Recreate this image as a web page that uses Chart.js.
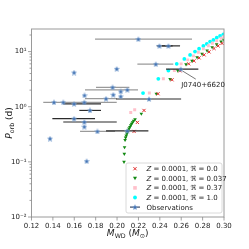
<!DOCTYPE html>
<html><head><meta charset="utf-8">
<script src="https://cdn.jsdelivr.net/npm/chart.js@4.4.1/dist/chart.umd.min.js"></script>
<style>html,body{margin:0;padding:0;background:#fff}canvas{display:block}</style>
</head><body>
<canvas id="c" width="249" height="249"></canvas>
<script>
// ---------------- data ----------------
const xTickValues = [0.12, 0.14, 0.16, 0.18, 0.20, 0.22, 0.24, 0.26, 0.28, 0.30];
const yMajorTicks = [0.01, 0.1, 1, 10];
const yTickLabels = ['10\u207B\u00B2', '10\u207B\u00B9', '10\u2070', '10\u00B9'];
const xMin = 0.12, xMax = 0.30, yMin = 0.01, yMax = 25.7;

const seriesLabels = ['Z = 0.0001, \u211C = 0.0', 'Z = 0.0001, \u211C = 0.037',
                      'Z = 0.0001, \u211C = 0.37', 'Z = 0.0001, \u211C = 1.0', 'Observations'];

// R = 0.0 (red crosses)
const r00Mass   = [0.2159, 0.2190, 0.2252, 0.2383, 0.2514, 0.2589, 0.2670, 0.2720, 0.2767, 0.2814, 0.2860, 0.2907, 0.2945, 0.2982];
const r00Period = [0.357, 0.520, 0.857, 1.72, 3.08, 4.48, 6.0, 6.79, 7.7, 8.72, 9.87, 11.4, 12.7, 14.1];
// R = 0.037 (green triangles)
const r037Mass   = [0.2065, 0.2068, 0.2070, 0.2075, 0.2080, 0.2086, 0.2092, 0.2098, 0.2105, 0.2112, 0.2120, 0.2128, 0.2136, 0.2145, 0.2155, 0.2168,
                    0.2227, 0.2367, 0.2496, 0.2568, 0.2645, 0.2701, 0.2748, 0.2795, 0.2842, 0.2889, 0.2931, 0.2973, 0.2999];
const r037Period = [0.100, 0.140, 0.184, 0.250, 0.275, 0.300, 0.325, 0.350, 0.375, 0.400, 0.430, 0.460, 0.490, 0.520, 0.555, 0.590,
                    0.747, 1.72, 3.17, 4.53, 5.87, 6.79, 7.92, 9.09, 10.4, 12.0, 13.5, 15.2, 16.3];
// R = 0.37 (pink squares)
const r037bMass   = [0.2128, 0.2165, 0.2302, 0.2433, 0.2536, 0.2599, 0.2661, 0.2714, 0.2760, 0.2807, 0.2854, 0.2891, 0.2932, 0.2973, 0.2998];
const r037bPeriod = [0.789, 0.883, 1.77, 3.21, 4.53, 5.99, 7.08, 8.36, 9.75, 11.2, 12.8, 14.2, 15.8, 17.5, 18.7];
// R = 1.0 (cyan circles)
const r10Mass   = [0.2243, 0.2386, 0.2480, 0.2558, 0.2629, 0.2683, 0.2729, 0.2767, 0.2807, 0.2839, 0.2870, 0.2901, 0.2932, 0.2963, 0.2994];
const r10Period = [1.77, 3.21, 4.53, 5.99, 7.38, 8.71, 10.0, 11.3, 12.7, 13.8, 15.2, 16.3, 17.9, 19.2, 20.6];

// Observations
const obsMass   = [0.2199, 0.2396, 0.2480, 0.2362, 0.2596, 0.1598, 0.1997, 0.1958, 0.2096, 0.2034, 0.1696, 0.1965, 0.2034, 0.1897,
                   0.2299, 0.1410, 0.1497, 0.1598, 0.1694, 0.1747, 0.1598, 0.1694, 0.1694, 0.1816, 0.2096, 0.1373, 0.1716];
const obsPeriod = [16.8, 12.7, 12.7, 5.92, 4.81, 4.17, 4.87, 2.25, 2.03, 1.89, 1.61, 1.65, 1.54, 1.40,
                   1.38, 1.20, 1.20, 1.13, 1.20, 0.857, 0.607, 0.529, 0.435, 0.357, 0.364, 0.264, 0.103];
const obsMassLo = [0.1794, 0.2371, 0.2420, 0.2190, 0.2458, null, null, 0.1803, 0.1700, null, null, null, null, 0.1700,
                   0.1990, null, null, 0.1497, 0.1310, 0.1647, 0.1395, 0.1497, null, 0.1654, 0.1897, null, null];
const obsMassHi = [0.2701, 0.2520, 0.2589, 0.2526, 0.2760, null, null, 0.2115, 0.2196, null, null, null, null, 0.1997,
                   0.2599, null, null, 0.1850, 0.1997, 0.1850, 0.1794, 0.1997, null, 0.1981, 0.2293, null, null];
const obsGroup  = ['a', 'b', 'b', 'a', 'b', '', '', 'a', 'a', '', '', '', '', 'a',
                   'b', '', '', 'b', 'a', 'b', 'b', 'b', '', 'a', 'b', '', ''];
const annotLabel = 'J0740+6620';
const annotIndex = 4;

// ---------------- styling / drawing ----------------
const FONT = '"DejaVu Sans", sans-serif';
const groupColor = { a: '#9a9a9a', b: '#2b2b2b' };

function pts(xs, ys) { return xs.map((x, i) => ({ x: x, y: ys[i] })); }

function makeStar(size) {
  const c = document.createElement('canvas');
  c.width = c.height = size;
  const g = c.getContext('2d');
  const cx = size / 2, R = size / 2 - 0.4, r = R * 0.45;
  g.beginPath();
  for (let i = 0; i < 10; i++) {
    const a = -Math.PI / 2 + i * Math.PI / 5;
    const rr = i % 2 ? r : R;
    g.lineTo(cx + rr * Math.cos(a), cx + rr * Math.sin(a) + 0.3);
  }
  g.closePath();
  g.fillStyle = '#3a6cb0';
  g.fill();
  g.lineWidth = 0.6;
  g.strokeStyle = 'rgba(140,175,215,0.9)';
  g.stroke();
  return c;
}
const starImg = makeStar(6);

function drawRich(ctx, parts, x, y, size, align) {
  let w = 0;
  const items = parts.map(p => {
    const fs = p.sub ? size * 0.7 : size;
    const f = (p.italic ? 'italic ' : '') + fs + 'px ' + FONT;
    ctx.font = f;
    const pw = ctx.measureText(p.t).width;
    w += pw;
    return { p, f, pw, fs };
  });
  let cx = align === 'center' ? x - w / 2 : x;
  ctx.textAlign = 'left';
  ctx.textBaseline = 'alphabetic';
  items.forEach(it => {
    ctx.font = it.f;
    ctx.fillText(it.p.t, cx, y + (it.p.sub ? size * 0.22 : 0));
    cx += it.pw;
  });
}

const decorPlugin = {
  id: 'decor',
  beforeDatasetDraw(chart, args) {
    if (args.index !== 4) return;
    const ctx = chart.ctx, xs = chart.scales.x, ys = chart.scales.y;
    ctx.save();
    ctx.lineWidth = 1.2;
    obsMass.forEach((m, i) => {
      if (obsMassLo[i] == null) return;
      const py = ys.getPixelForValue(obsPeriod[i]);
      ctx.strokeStyle = groupColor[obsGroup[i]];
      ctx.beginPath();
      ctx.moveTo(xs.getPixelForValue(obsMassLo[i]), py);
      ctx.lineTo(xs.getPixelForValue(obsMassHi[i]), py);
      ctx.stroke();
    });
    ctx.restore();
  },
  afterDraw(chart) {
    const ctx = chart.ctx, a = chart.chartArea, xs = chart.scales.x, ys = chart.scales.y;
    ctx.save();
    // frame
    ctx.strokeStyle = '#9a9a9a';
    ctx.lineWidth = 1;
    ctx.strokeRect(a.left, a.top, a.right - a.left, a.bottom - a.top);
    // ticks
    ctx.strokeStyle = '#8a8a8a';
    ctx.lineWidth = 0.8;
    xTickValues.forEach(v => {
      const px = xs.getPixelForValue(v);
      ctx.beginPath(); ctx.moveTo(px, a.bottom); ctx.lineTo(px, a.bottom + 3.5); ctx.stroke();
    });
    yMajorTicks.forEach(dec => {
      for (let k = 1; k <= 9; k++) {
        const v = dec * k;
        if (v < yMin || v > yMax) continue;
        const py = ys.getPixelForValue(v);
        ctx.beginPath(); ctx.moveTo(a.left, py); ctx.lineTo(a.left - (k === 1 ? 3.5 : 2), py); ctx.stroke();
      }
    });
    // annotation
    const sx = xs.getPixelForValue(obsMass[annotIndex]);
    const sy = ys.getPixelForValue(obsPeriod[annotIndex]);
    ctx.strokeStyle = '#555';
    ctx.lineWidth = 0.8;
    ctx.beginPath(); ctx.moveTo(sx + 2, sy + 2); ctx.lineTo(sx + 15, sy + 10); ctx.stroke();
    ctx.fillStyle = '#222';
    ctx.font = '7px ' + FONT;
    ctx.textAlign = 'left'; ctx.textBaseline = 'middle';
    ctx.fillText(annotLabel, sx + 0.5, sy + 16);
    // axis titles
    ctx.fillStyle = '#222';
    drawRich(ctx, [{ t: 'M', italic: true }, { t: 'WD', sub: true }, { t: ' (' }, { t: 'M', italic: true }, { t: '\u2299', sub: true }, { t: ')' }],
      (a.left + a.right) / 2, 236, 9, 'center');
    ctx.save();
    ctx.translate(12, (a.top + a.bottom) / 2);
    ctx.rotate(-Math.PI / 2);
    drawRich(ctx, [{ t: 'P', italic: true }, { t: 'orb', sub: true }, { t: ' (d)' }], 0, 0, 9, 'center');
    ctx.restore();
    // legend
    const lx = 126, ly = 163, lw = 96, lh = 50;
    ctx.fillStyle = 'rgba(255,255,255,0.85)';
    ctx.strokeStyle = '#d0d0d0';
    ctx.lineWidth = 0.8;
    ctx.beginPath();
    if (ctx.roundRect) ctx.roundRect(lx, ly, lw, lh, 2); else ctx.rect(lx, ly, lw, lh);
    ctx.fill(); ctx.stroke();
    const mx = 135, tx = 146.5;
    seriesLabels.forEach((lab, i) => {
      const cy = 168.7 + i * 9.6;
      ctx.save();
      if (i === 0) {
        ctx.strokeStyle = '#e02a2a'; ctx.lineWidth = 1;
        ctx.beginPath(); ctx.moveTo(mx - 1.6, cy - 1.6); ctx.lineTo(mx + 1.6, cy + 1.6);
        ctx.moveTo(mx + 1.6, cy - 1.6); ctx.lineTo(mx - 1.6, cy + 1.6); ctx.stroke();
      } else if (i === 1) {
        ctx.fillStyle = '#128a12';
        ctx.beginPath(); ctx.moveTo(mx - 2, cy - 1.5); ctx.lineTo(mx + 2, cy - 1.5); ctx.lineTo(mx, cy + 2); ctx.closePath(); ctx.fill();
      } else if (i === 2) {
        ctx.fillStyle = '#ffc0cb';
        ctx.fillRect(mx - 1.8, cy - 1.8, 3.6, 3.6);
      } else if (i === 3) {
        ctx.fillStyle = '#00ffff';
        ctx.beginPath(); ctx.arc(mx, cy, 1.9, 0, Math.PI * 2); ctx.fill();
      } else {
        ctx.strokeStyle = '#3a4a66'; ctx.lineWidth = 1.2;
        ctx.beginPath(); ctx.moveTo(mx - 5, cy); ctx.lineTo(mx + 5, cy); ctx.stroke();
        ctx.drawImage(starImg, mx - 3, cy - 3, 6, 6);
      }
      ctx.restore();
      ctx.fillStyle = '#222';
      if (lab.charAt(0) === 'Z') {
        drawRich(ctx, [{ t: 'Z', italic: true }, { t: lab.slice(1) }], tx, cy + 2.5, 7, 'left');
      } else {
        drawRich(ctx, [{ t: lab }], tx, cy + 2.5, 7, 'left');
      }
    });
    ctx.restore();
  }
};

new Chart(document.getElementById('c'), {
  type: 'scatter',
  data: {
    datasets: [
      { label: seriesLabels[0], data: pts(r00Mass, r00Period), pointStyle: 'crossRot', radius: 2.2, borderWidth: 1,
        borderColor: '#e02a2a', backgroundColor: '#e02a2a', order: 1 },
      { label: seriesLabels[1], data: pts(r037Mass, r037Period), pointStyle: 'triangle', rotation: 180, radius: 2.1, borderWidth: 0,
        borderColor: '#128a12', backgroundColor: '#128a12', order: 2 },
      { label: seriesLabels[2], data: pts(r037bMass, r037bPeriod), pointStyle: 'rect', radius: 2.1, borderWidth: 0,
        borderColor: '#ffc0cb', backgroundColor: '#ffc0cb', order: 3 },
      { label: seriesLabels[3], data: pts(r10Mass, r10Period), pointStyle: 'circle', radius: 1.9, borderWidth: 0,
        borderColor: '#00ffff', backgroundColor: '#00ffff', order: 4 },
      { label: seriesLabels[4], data: pts(obsMass, obsPeriod), pointStyle: starImg, radius: 3,
        borderColor: '#3a6cb0', backgroundColor: '#3a6cb0', order: 0 }
    ]
  },
  options: {
    responsive: false,
    animation: false,
    devicePixelRatio: 1,
    layout: { padding: { left: 0, right: 25, top: 29, bottom: 0 } },
    plugins: { legend: { display: false }, tooltip: { enabled: false } },
    scales: {
      x: {
        type: 'linear', min: xMin, max: xMax,
        grid: { display: false, drawTicks: false },
        border: { display: false },
        afterBuildTicks: s => { s.ticks = xTickValues.map(v => ({ value: v })); },
        afterFit: s => { s.height = 32; },
        ticks: { autoSkip: false, maxRotation: 0, padding: 4.5, color: '#222',
                 font: { family: FONT, size: 7 }, callback: v => Number(v).toFixed(2) }
      },
      y: {
        type: 'logarithmic', min: yMin, max: yMax,
        grid: { display: false, drawTicks: false },
        border: { display: false },
        afterBuildTicks: s => { s.ticks = yMajorTicks.map(v => ({ value: v })); },
        afterFit: s => { s.width = 31.5; },
        ticks: { autoSkip: false, padding: 5, color: '#222', font: { family: FONT, size: 7 },
                 callback: (v) => { const i = yMajorTicks.findIndex(t => Math.abs(t - v) / t < 1e-6); return i >= 0 ? yTickLabels[i] : ''; } }
      }
    }
  },
  plugins: [decorPlugin]
});
</script>
</body></html>
